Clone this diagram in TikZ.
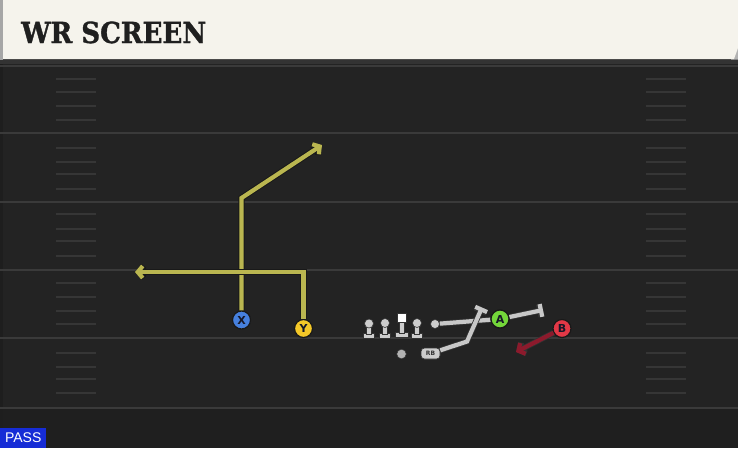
\documentclass[tikz,border=0pt]{standalone}
\usepackage{fontspec}
\usetikzlibrary{arrows.meta}
\newfontfamily\titlefont{DejaVu Serif}[FakeStretch=0.9,FakeBold=1.2]
\newfontfamily\labelfont{DejaVu Sans}
\newfontfamily\passfont{Liberation Sans}
\definecolor{bgc}{RGB}{35,35,35}
\definecolor{bgdark}{RGB}{31,31,31}
\definecolor{yardc}{RGB}{58,58,58}
\definecolor{hashc}{RGB}{54,54,54}
\definecolor{cream}{RGB}{245,243,236}
\definecolor{routey}{RGB}{186,182,80}
\definecolor{routeg}{RGB}{200,200,200}
\definecolor{router}{RGB}{140,26,44}
\definecolor{xblue}{RGB}{70,128,222}
\definecolor{yyellow}{RGB}{244,200,40}
\definecolor{agreen}{RGB}{116,214,58}
\definecolor{bred}{RGB}{226,56,70}
\definecolor{passblue}{RGB}{22,44,214}
\definecolor{navy}{RGB}{22,24,40}
\definecolor{olgray}{RGB}{205,205,205}
\tikzset{
  yardline/.style={draw=yardc, line width=2},
  hashline/.style={draw=hashc, line width=1.5},
  player/.style={circle, minimum size=18, inner sep=0, draw=black!90, line width=1.2,
    text=navy, font=\labelfont\bfseries\fontsize{11}{11}\selectfont},
  route/.style={draw=routey, line width=4.2, line join=miter,
    preaction={draw=black!90, line width=6.2}},
  groute/.style={draw=routeg, line width=4.2, line join=miter,
    preaction={draw=black!80, line width=5.8}},
  rroute/.style={draw=router, line width=4.2,
    preaction={draw=black!80, line width=5.8}},
  chev/.style={-{Straight Barb[length=5,width=12]}},
  blockend/.style={-{Bar[width=13]}},
  olhead/.style={circle, fill=olgray, draw=black!80, line width=0.6, minimum size=9, inner sep=0},
  olpart/.style={fill=olgray, draw=black!80, line width=0.6},
}
\begin{document}
\begin{tikzpicture}[x=1pt,y=-1pt]
\useasboundingbox (0,0) rectangle (738,448);
% field
\fill[bgc] (0,0) rectangle (738,448);
\fill[bgdark] (0,409) rectangle (738,448);
\fill[black!15!bgc] (0,64) rectangle (3,448);
\foreach \yy in {66,133,202,270,338,408} \draw[yardline] (0,\yy) -- (738,\yy);
\foreach \yy in {79,92,106,120,148,162,174,189,214,229,241,256,283,297,311,324,353,367,379,393} {
  \draw[hashline] (56,\yy) -- (96,\yy);
  \draw[hashline] (646,\yy) -- (686,\yy);
}
% header
\fill[black!80] (0,58) rectangle (738,64);
\fill[gray!70] (0,0) rectangle (3,59.5);
\fill[gray!60] (733,50) -- (738,48) -- (738,59.5) -- (731,59.5) -- cycle;
\fill[cream] (3,0) -- (738,0) -- (738,48) -- (734,59) -- (3,59) -- cycle;
\node[anchor=base west, inner sep=0, text=black!88] (title) at (21,43)
  {\titlefont\bfseries\fontsize{29}{29}\selectfont WR SCREEN};
% players
\node[player, fill=xblue] (X) at (241.5,320) {X};
\node[player, fill=yyellow] (Y) at (303.5,328.5) {Y};
\node[player, fill=agreen] (A) at (500,319) {A};
\node[player, fill=bred] (B) at (562,328.5) {B};
\node[olhead] (te) at (435,324) {};
\node[circle, fill=gray!60, draw=black!80, line width=0.5, minimum size=9.5, inner sep=0] (qb) at (401.5,354) {};
\node[rounded corners=3.5, fill=olgray, draw=black!80, line width=0.6, minimum width=19, minimum height=11, inner sep=0,
  font=\labelfont\bfseries\fontsize{6}{6}\selectfont, text=black!80] (rb) at (430.5,353.5) {RB};
% offensive line
\foreach \nm/\xx/\yy in {lt/369/323.5, lg/385/323, rg/417/323} {
  \fill[olpart] (\xx-5.5,333.5) rectangle (\xx+5.5,338.5);
  \fill[olpart] (\xx-2.6,\yy) rectangle (\xx+2.6,334);
  \node[olhead] (\nm) at (\xx,\yy) {};
}
\fill[olpart] (395.5,332.5) rectangle (408,337);
\fill[olpart] (399.5,321) rectangle (404,333);
\node[fill=white, draw=black!80, line width=0.6, minimum size=9, inner sep=0] (c) at (401.7,317.5) {};
% routes
\coordinate (x1) at (241.5,198);
\coordinate (x2) at (322,145);
\coordinate (y1) at (303.5,272);
\coordinate (y2) at (135,272);
\coordinate (a1) at (543,310);
\coordinate (r1) at (467,341.5);
\coordinate (r2) at (482,307.5);
\coordinate (b1) at (516,352);
\draw[route, chev] (X) -- (x1) -- (x2);
\draw[route, chev] (Y) -- (y1) -- (y2);
\draw[groute] (te) -- (A);
\draw[groute, blockend] (A) -- (a1);
\draw[groute, blockend] (rb) -- (r1) -- (r2);
\draw[rroute, chev] (B) -- (b1);
% redraw A on top of crossing
\node[player, fill=agreen] at (A) {A};
% pass tag
\node[fill=passblue, anchor=south west, minimum width=46, minimum height=20, inner sep=0,
  text=white, font=\passfont\fontsize{14}{14}\selectfont] (pass) at (0,448) {PASS};
\end{tikzpicture}
\end{document}
